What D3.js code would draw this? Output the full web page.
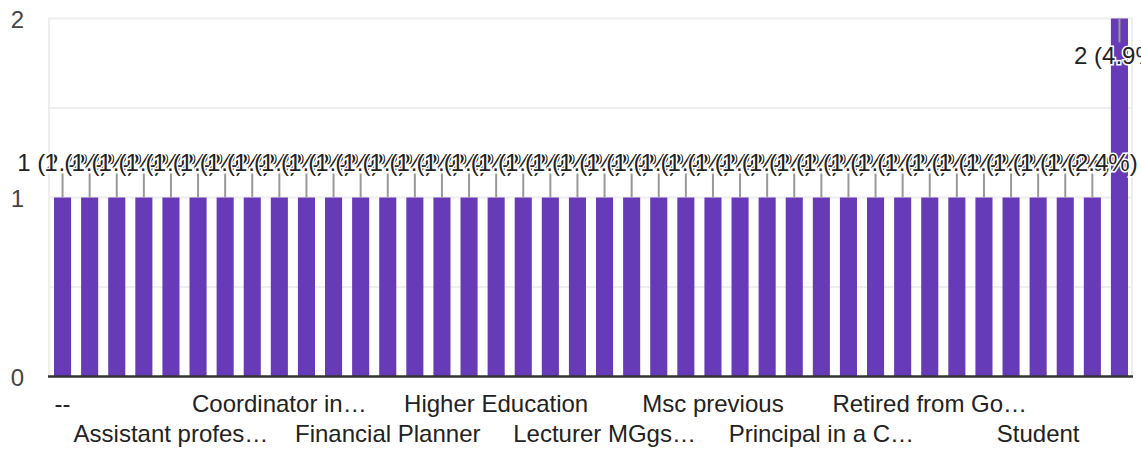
<!DOCTYPE html>
<html>
<head>
<meta charset="utf-8">
<script src="https://cdn.jsdelivr.net/npm/d3@7"></script>
<style>
  body { margin: 0; background: #fff; }
  svg { display: block; font-family: Arial, "Liberation Sans", sans-serif; }
</style>
</head>
<body>
<svg id="chart" width="1141" height="450"></svg>
<script>
// answers, in the order the form summary lists them
const categories = [
  '--', 'Accountant', 'Administrator', 'Assistant Manager', 'Assistant professor',
  'Associate Professor', 'Banker', 'Business', 'Coordinator in NGO', 'Data Analyst',
  'Doctor', 'Engineer', 'Financial Planner', 'Govt employee', 'Guest Lecturer',
  'Head of Department', 'Higher Education', 'Homemaker', 'Housewife', 'Lawyer',
  'Lecturer MGgs college', 'Manager', 'Marketing', 'Media professional', 'Msc previous',
  'Nurse', 'Pharmacist', 'Practitioner', 'Principal in a College', 'Professor',
  'Project Manager', 'Research Scholar', 'Retired from Government service', 'Sales Executive', 'Self employed',
  'Software Engineer', 'Student', 'Supervisor', 'System Analyst', 'Teacher'
];
const counts = [
  1, 1, 1, 1, 1, 1, 1, 1, 1, 1,
  1, 1, 1, 1, 1, 1, 1, 1, 1, 1,
  1, 1, 1, 1, 1, 1, 1, 1, 1, 1,
  1, 1, 1, 1, 1, 1, 1, 1, 1, 2
];
const yTicks = [0, 1, 2];
const gridTicks = [0.5, 1, 1.5, 2];

const data = categories.map((c, i) => ({ name: c, value: counts[i] }));
const total = d3.sum(counts);

const svg = d3.select('#chart');
const plotLeft = 49, plotRight = 1133, plotTop = 18.5, plotBottom = 376.5;

const x = d3.scaleBand()
  .domain(categories)
  .range([plotLeft, plotRight])
  .paddingInner(0.37)
  .paddingOuter(0.185);

const y = d3.scaleLinear()
  .domain([0, 2])
  .range([plotBottom, plotTop]);

// grid
const grid = svg.append('g').attr('stroke', '#eeeeee').attr('stroke-width', 2);
grid.selectAll('line.h')
  .data(gridTicks)
  .enter()
  .append('line')
  .attr('x1', plotLeft).attr('x2', plotRight - 1)
  .attr('y1', d => y(d)).attr('y2', d => y(d));
grid.selectAll('line.v')
  .data([plotLeft, plotRight - 1])
  .enter()
  .append('line')
  .attr('x1', d => d).attr('x2', d => d)
  .attr('y1', plotTop - 1).attr('y2', plotBottom);

// y axis labels
const yAxis = svg.append('g')
  .attr('transform', 'translate(24,0)')
  .call(d3.axisLeft(y).tickValues(yTicks).tickSize(0).tickPadding(0).tickFormat(d3.format('d')));
yAxis.select('.domain').remove();
yAxis.selectAll('text')
  .attr('font-size', 24)
  .attr('font-family', 'Arial, "Liberation Sans", sans-serif')
  .attr('fill', '#444')
  .attr('dy', '0.36em');

// bars
svg.append('g')
  .selectAll('rect')
  .data(data)
  .enter()
  .append('rect')
  .attr('x', d => x(d.name))
  .attr('y', d => y(d.value))
  .attr('width', x.bandwidth())
  .attr('height', d => y(0) - y(d.value))
  .attr('fill', '#673ab7');

// baseline
svg.append('line')
  .attr('x1', plotLeft - 1).attr('x2', plotRight)
  .attr('y1', y(0)).attr('y2', y(0))
  .attr('stroke', '#333').attr('stroke-width', 2.5);

// annotations: stem + label, inside the bar when there is no room above
const stem = 24;
const fs = 24;
const ann = svg.append('g')
  .selectAll('g')
  .data(data)
  .enter()
  .append('g');

ann.each(function (d) {
  const g = d3.select(this);
  const cx = x(d.name) + x.bandwidth() / 2;
  const yt = y(d.value);
  const inside = yt - stem - fs < 0;
  const y2 = inside ? yt + stem : yt - stem;
  g.append('line')
    .attr('x1', cx).attr('x2', cx)
    .attr('y1', yt).attr('y2', y2)
    .attr('stroke', '#999').attr('stroke-width', 2);
  g.append('text')
    .attr('x', cx)
    .attr('y', inside ? y2 + 21 : y2 - 3)
    .attr('text-anchor', 'middle')
    .attr('font-size', fs)
    .attr('fill', '#222')
    .attr('stroke', '#fff')
    .attr('stroke-width', 3)
    .attr('paint-order', 'stroke')
    .text(`${d.value} (${(d.value / total * 100).toFixed(1)}%)`);
});

// x labels: every 4th category, alternating two rows, truncated to fit
const maxW = 198;
const xl = svg.append('g')
  .selectAll('text')
  .data(data.filter((d, i) => i % 4 === 0))
  .enter()
  .append('text')
  .attr('x', d => x(d.name) + x.bandwidth() / 2)
  .attr('y', (d, i) => i % 2 === 0 ? 412 : 442)
  .attr('text-anchor', 'middle')
  .attr('font-size', 24)
  .attr('fill', '#222')
  .text(d => d.name);

xl.each(function (d) {
  const t = d3.select(this);
  let s = d.name;
  if (this.getComputedTextLength() <= maxW) return;
  while (s.length > 1) {
    s = s.slice(0, -1);
    t.text(s.trimEnd() + '…');
    if (this.getComputedTextLength() <= maxW) break;
  }
});
</script>
</body>
</html>
